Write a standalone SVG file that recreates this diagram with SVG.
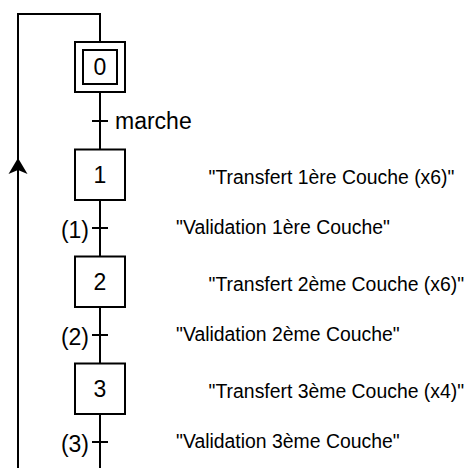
<svg xmlns="http://www.w3.org/2000/svg" width="466" height="468" viewBox="0 0 466 468">
<style>
.ln{fill:none;stroke:#000;stroke-width:2}
.box{fill:#fff;stroke:#000;stroke-width:2}
.t{font-family:"Liberation Sans",Arial,sans-serif;fill:#000}
.big{font-size:23px}
.sm{font-size:19.4px}
</style>
<rect width="466" height="468" fill="#fff"/>
<g id="connectors">
<path class="ln" d="M18,468 V14 H100 V42"/>
<polygon points="18,158 27.5,174 18,170 8.5,174" fill="#000"/>
<path class="ln" d="M100,92 V149.5 M100,200 V256.5 M100,307 V363.5 M100,414 V468"/>
</g>
<g id="step0">
<rect class="box" x="75" y="42" width="50" height="50"/>
<rect class="box" x="83" y="50" width="34" height="34"/>
<text class="t big" x="100" y="75" text-anchor="middle">0</text>
</g>
<g id="trans0">
<path class="ln" d="M92,121 H108"/>
<text class="t big" x="115" y="128.5">marche</text>
</g>
<g id="step1">
<rect class="box" x="75" y="149.5" width="50" height="50.5"/>
<text class="t big" x="100" y="183" text-anchor="middle">1</text>
<text class="t sm" x="208.6" y="184.3">"Transfert 1ère Couche (x6)"</text>
</g>
<g id="trans1">
<path class="ln" d="M92,228 H108"/>
<text class="t big" x="89" y="238" text-anchor="end">(1)</text>
<text class="t sm" x="176" y="233.5">"Validation 1ère Couche"</text>
</g>
<g id="step2">
<rect class="box" x="75" y="256.5" width="50" height="50.5"/>
<text class="t big" x="100" y="290" text-anchor="middle">2</text>
<text class="t sm" x="208.6" y="291.3">"Transfert 2ème Couche (x6)"</text>
</g>
<g id="trans2">
<path class="ln" d="M92,335 H108"/>
<text class="t big" x="89" y="345" text-anchor="end">(2)</text>
<text class="t sm" x="176" y="340.5">"Validation 2ème Couche"</text>
</g>
<g id="step3">
<rect class="box" x="75" y="363.5" width="50" height="50.5"/>
<text class="t big" x="100" y="397" text-anchor="middle">3</text>
<text class="t sm" x="208.6" y="398">"Transfert 3ème Couche (x4)"</text>
</g>
<g id="trans3">
<path class="ln" d="M92,442 H108"/>
<text class="t big" x="89" y="452" text-anchor="end">(3)</text>
<text class="t sm" x="176" y="447.5">"Validation 3ème Couche"</text>
</g>
</svg>
